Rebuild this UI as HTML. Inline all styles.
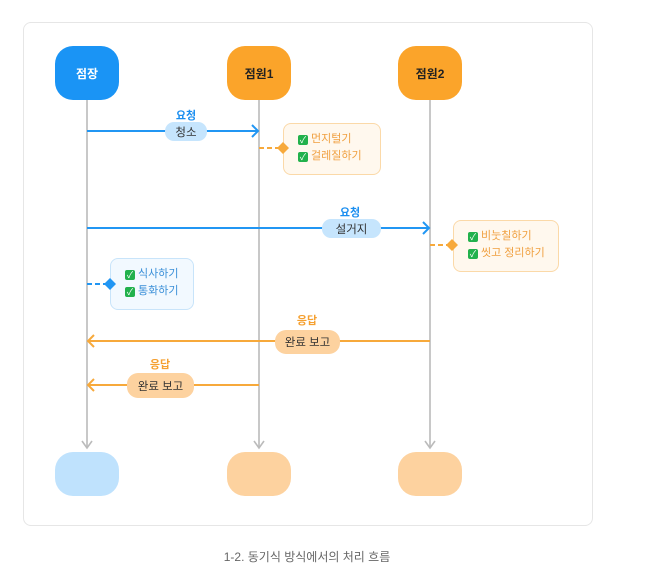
<!DOCTYPE html>
<html><head><meta charset="utf-8"><style>
body{margin:0;width:663px;height:579px;background:#fff;font-family:"Liberation Sans","Noto Sans CJK KR",sans-serif;position:relative;overflow:hidden}
.a{position:absolute}
.card{left:23px;top:22px;width:568px;height:502px;border:1px solid #e6e6e6;border-radius:8px}
.node{width:64px;height:54px;border-radius:18px;display:flex;align-items:center;justify-content:center;font-size:12px;font-weight:bold}
.lbl{border-radius:9px;display:flex;align-items:center;justify-content:center;font-size:11.5px;color:#333}
.t{font-size:11px;font-weight:bold;text-align:center;width:60px}
.note{border-radius:8px;font-size:11px;line-height:17px;padding:7px 0 0 14px;box-sizing:border-box}
.ck{display:inline-block;width:10px;height:10px;background:#22b14c;color:#fff;font-size:9px;line-height:10px;text-align:center;border-radius:2px;margin-right:3px;vertical-align:-1px}
</style></head><body>
<div class="a card"></div>
<svg class="a" style="left:0;top:0" width="663" height="579">
<g stroke="#bbb" stroke-width="1.6" fill="none">
<line x1="87" y1="100" x2="87" y2="448"/><polyline points="82,441 87,448 92,441"/>
<line x1="259" y1="100" x2="259" y2="448"/><polyline points="254,441 259,448 264,441"/>
<line x1="430" y1="100" x2="430" y2="448"/><polyline points="425,441 430,448 435,441"/>
</g>
<g stroke="#2196f3" stroke-width="2" fill="none">
<line x1="87" y1="131" x2="258" y2="131"/><polyline points="252,125 258,131 252,137"/>
<line x1="87" y1="228" x2="429" y2="228"/><polyline points="423,222 429,228 423,234"/>
<line x1="87" y1="284" x2="108" y2="284" stroke-dasharray="5,3"/>
</g>
<g stroke="#f7a93b" stroke-width="2" fill="none">
<line x1="430" y1="341" x2="88" y2="341"/><polyline points="94,335 88,341 94,347"/>
<line x1="259" y1="385" x2="88" y2="385"/><polyline points="94,379 88,385 94,391"/>
<line x1="259" y1="148" x2="281" y2="148" stroke-dasharray="5,3"/>
<line x1="430" y1="245" x2="450" y2="245" stroke-dasharray="5,3"/>
</g>
</svg>
<div class="a node" style="left:55px;top:46px;background:#1a94f5;color:#fff">점장</div>
<div class="a node" style="left:227px;top:46px;background:#fba42a;color:#222">점원1</div>
<div class="a node" style="left:398px;top:46px;background:#fba42a;color:#222">점원2</div>
<div class="a node" style="left:55px;top:452px;height:44px;background:#bfe2fd"></div>
<div class="a node" style="left:227px;top:452px;height:44px;background:#fdd29f"></div>
<div class="a node" style="left:398px;top:452px;height:44px;background:#fdd29f"></div>
<div class="a t" style="left:156px;top:107px;color:#1a8ef0">요청</div>
<div class="a lbl" style="left:165px;top:122px;width:42px;height:19px;background:#c6e5fd">청소</div>
<div class="a t" style="left:320px;top:204px;color:#1a8ef0">요청</div>
<div class="a lbl" style="left:322px;top:219px;width:59px;height:19px;background:#c6e5fd">설거지</div>
<div class="a t" style="left:277px;top:312px;color:#f5a030">응답</div>
<div class="a lbl" style="left:275px;top:330px;width:65px;height:24px;background:#fdd29f;border-radius:11px">완료 보고</div>
<div class="a t" style="left:130px;top:356px;color:#f5a030">응답</div>
<div class="a lbl" style="left:127px;top:373px;width:67px;height:25px;background:#fdd29f;border-radius:11px">완료 보고</div>
<div class="a note" style="left:283px;top:123px;width:98px;height:52px;background:#fff8ee;border:1.5px solid #fbd9a8;color:#f0a040"><span class="ck">✓</span>먼지털기<br><span class="ck">✓</span>걸레질하기</div>
<div class="a note" style="left:453px;top:220px;width:106px;height:52px;background:#fff8ee;border:1.5px solid #fbd9a8;color:#f0a040"><span class="ck">✓</span>비눗칠하기<br><span class="ck">✓</span>씻고 정리하기</div>
<div class="a note" style="left:110px;top:258px;width:84px;height:52px;background:#f2f9ff;border:1.5px solid #c8e4fa;color:#3a8fd8"><span class="ck">✓</span>식사하기<br><span class="ck">✓</span>통화하기</div>
<svg class="a" style="left:0;top:0" width="663" height="579">
<path d="M110 278 L116 284 L110 290 L104 284Z" fill="#2196f3"/>
<path d="M283 142 L289 148 L283 154 L277 148Z M452 239 L458 245 L452 251 L446 245Z" fill="#f7a93b"/>
</svg>
<div class="a" style="left:0;width:614px;top:548px;text-align:center;font-size:12px;color:#666">1-2. 동기식 방식에서의 처리 흐름</div>
</body></html>
